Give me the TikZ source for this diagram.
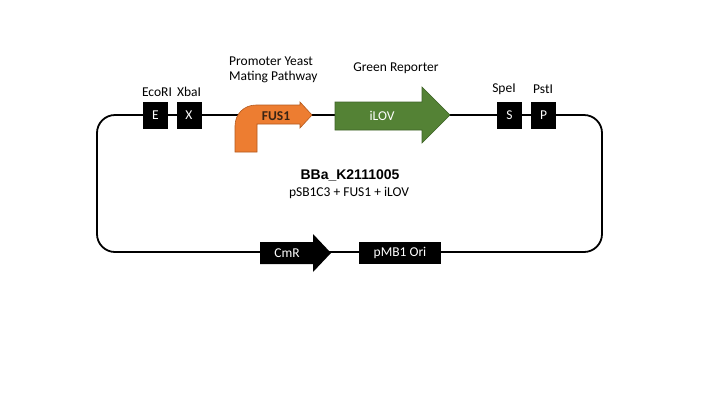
\documentclass[tikz,border=0pt]{standalone}
\usepackage{fontspec}
\setmainfont{Carlito}
\newfontfamily\titlefont{Liberation Sans}
\definecolor{fusorange}{HTML}{ED7D31}
\definecolor{fusedge}{HTML}{B45A1E}
\definecolor{fustext}{HTML}{3A2414}
\definecolor{lovgreen}{HTML}{548235}
\definecolor{lovedge}{HTML}{3F6328}
\begin{document}
\begin{tikzpicture}[x=1pt,y=-1pt,
  site/.style={fill=black,text=white,minimum width=25pt,minimum height=27pt,
    inner sep=0pt,font=\fontsize{13.5}{15}\selectfont},
  lbl/.style={font=\fontsize{13.5}{15}\selectfont,inner sep=0pt},
  backbone/.style={line width=1.8pt,rounded corners=18pt}
]
\useasboundingbox (0,0) rectangle (720,405);
\fill[white] (0,0) rectangle (720,405);

% plasmid backbone
\draw[backbone] (97,115) rectangle (602,252);

% restriction sites
\node[site] (E) at (155.5,115.5) {E};
\node[site] (X) at (189,115.5) {X};
\node[site] (S) at (509.5,115.5) {S};
\node[site] (P) at (543.5,115.5) {P};
\node[lbl] (ecori) at (157,92) {EcoRI};
\node[lbl] (xbai) at (189,92) {XbaI};
\node[lbl] (spei) at (504,89) {SpeI};
\node[lbl] (psti) at (543,89) {PstI};

% FUS1 promoter (bent arrow)
\draw[fill=fusorange,draw=fusedge,line width=0.6pt]
  (235,152) -- (235,126) .. controls (235,114) and (244,105) .. (256,105)
  -- (300,105) -- (300,102) -- (312,115) -- (300,128) -- (300,124)
  -- (257,124) -- (257,152) -- cycle;
\node[lbl,font=\fontsize{13.5}{15}\selectfont\bfseries,text=fustext] (fus) at (276,116) {FUS1};
\node[lbl,align=left,anchor=north west,font=\fontsize{13.5}{15}\selectfont] (prom) at (229,57)
  {Promoter Yeast\\Mating Pathway};

% iLOV reporter
\draw[fill=lovgreen,draw=lovedge,line width=0.6pt]
  (335,102) -- (422,102) -- (422,87) -- (450,115) -- (422,143) -- (422,130)
  -- (335,130) -- cycle;
\node[lbl,text=white] (ilov) at (382,116) {iLOV};
\node[lbl] (green) at (396,68) {Green Reporter};

% CmR and origin
\fill[black] (260,242) -- (313,242) -- (313,234) -- (331,253) -- (313,272)
  -- (313,264) -- (260,264) -- cycle;
\node[lbl,text=white] (cmr) at (287,253) {CmR};
\node[fill=black,text=white,minimum width=82pt,minimum height=22pt,inner sep=0pt,
  font=\fontsize{13.5}{15}\selectfont] (ori) at (400,253) {pMB1 Ori};

% construct name
\node[inner sep=0pt,font=\titlefont\fontsize{14}{16}\selectfont\bfseries] (name) at (350,175) {BBa\_K2111005};
\node[lbl] (desc) at (349,193) {pSB1C3 + FUS1 + iLOV};
\end{tikzpicture}
\end{document}
